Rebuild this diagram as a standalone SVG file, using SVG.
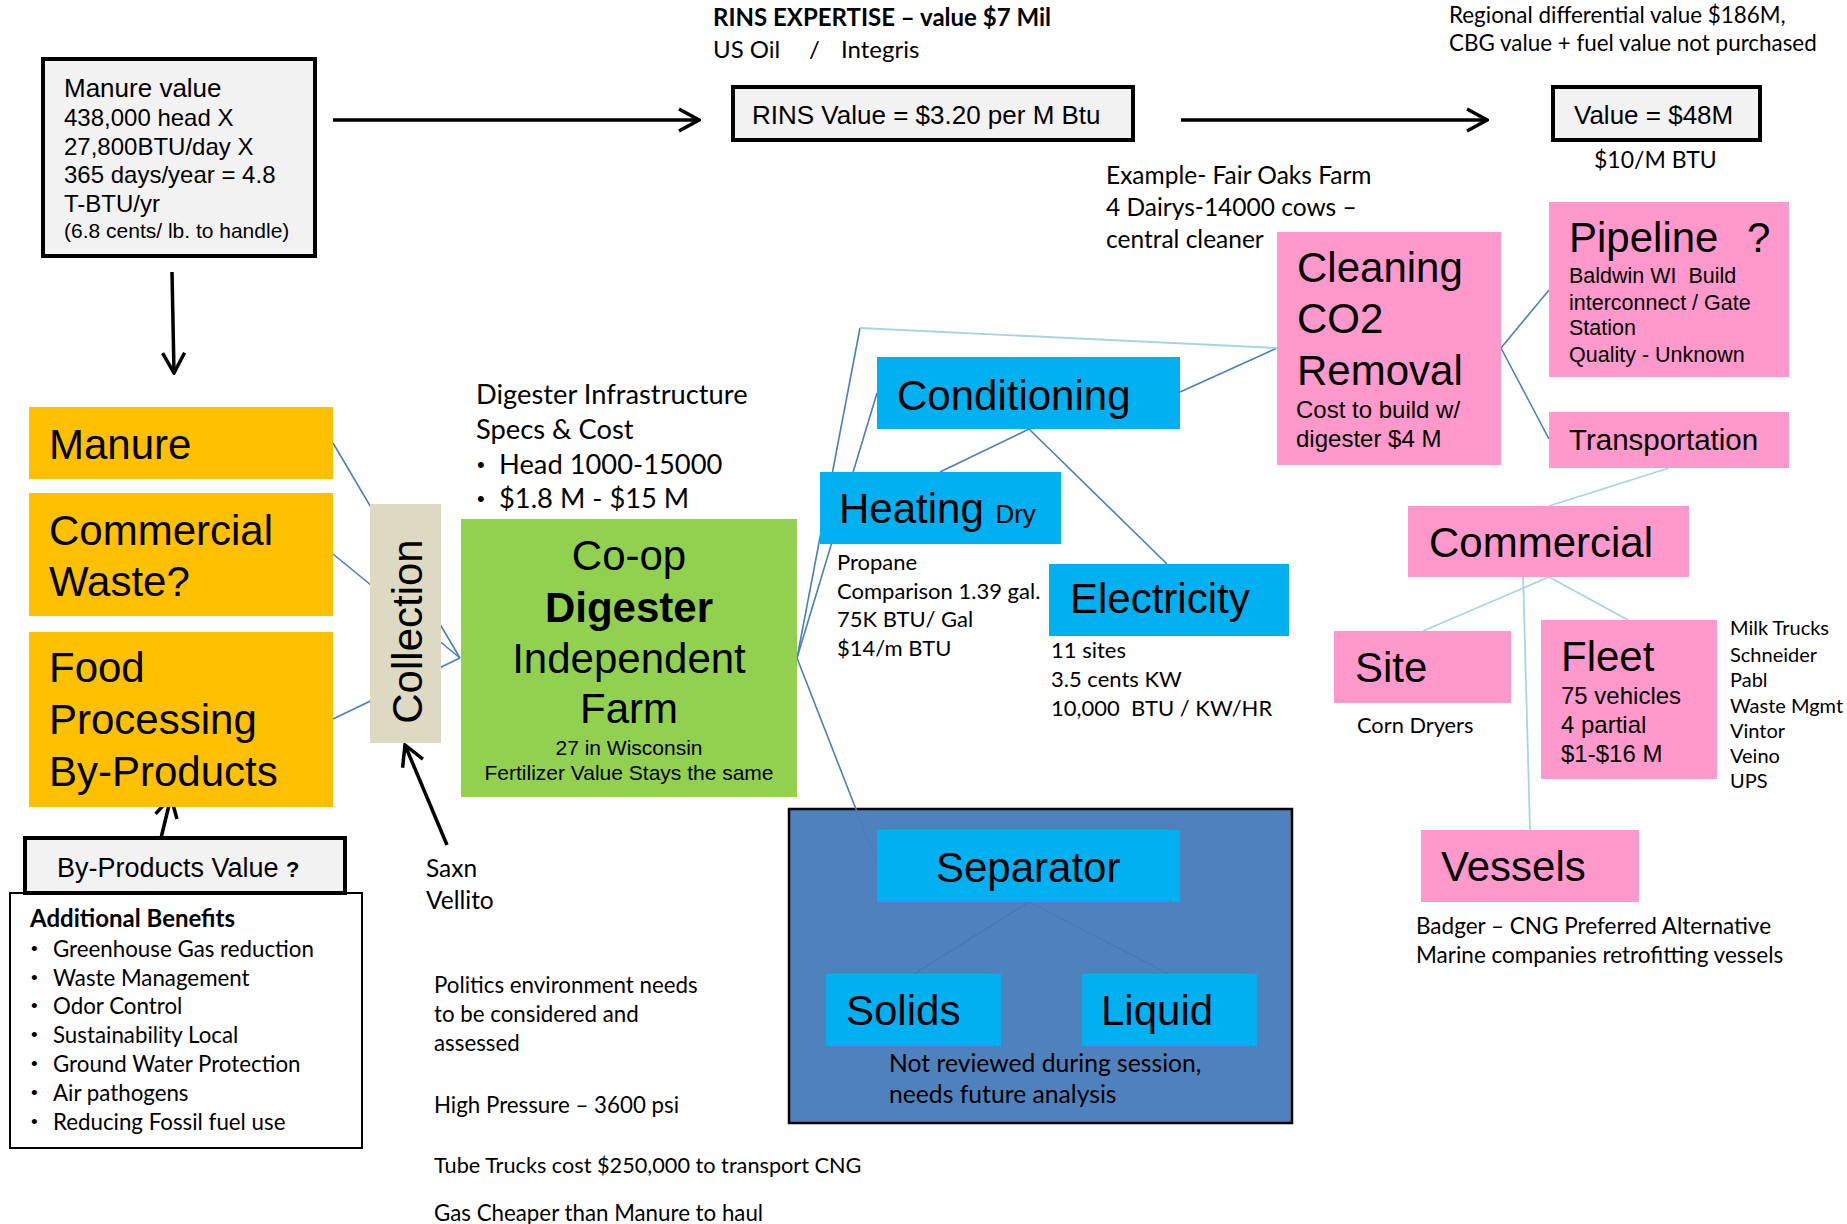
<svg xmlns="http://www.w3.org/2000/svg" width="1847" height="1224" viewBox="0 0 1847 1224">
<defs>
<marker id="arr" markerUnits="userSpaceOnUse" viewBox="-24 -13 26 26" markerWidth="26" markerHeight="26" refX="0" refY="0" orient="auto">
<path d="M-20,-11 L0,0 L-20,11" fill="none" stroke="#000" stroke-width="3.5"/>
</marker>
<style>
.a{font-family:"Liberation Sans",Arial,sans-serif;fill:#000}
.c{font-family:Lato,"Liberation Sans",sans-serif;fill:#000}
.big{font-size:42px}
.k{stroke:#000;stroke-width:3.5;fill:none}
.bl{stroke:#4A7EBB;stroke-width:1.6;fill:none}
.sb{stroke:#4677B6;stroke-width:1.3;fill:none}
.lt{stroke:#A5D5E0;stroke-width:1.8;fill:none}
.cy{fill:#00B0F0}
.pk{fill:#FF99CC}
.or{fill:#FFC000}
.gb{fill:#F2F2F2;stroke:#000;stroke-width:4}
.pre{white-space:pre}
</style>
</defs>
<rect width="1847" height="1224" fill="#fff"/>

<g id="separator-area">
<rect x="789" y="809" width="503" height="314" fill="#4F81BD" stroke="#000" stroke-width="2.5"/>
</g>

<g id="connectors">
<line class="bl" x1="333" y1="443" x2="460" y2="658"/>
<line class="bl" x1="333" y1="554" x2="460" y2="658"/>
<line class="bl" x1="333" y1="719" x2="460" y2="658"/>
<line class="bl" x1="797" y1="658" x2="860" y2="328"/>
<line class="bl" x1="797" y1="658" x2="877" y2="393"/>
<line class="bl" x1="797" y1="658" x2="877" y2="863"/>
<line class="bl" x1="1029" y1="429" x2="940" y2="472"/>
<line class="bl" x1="1029" y1="429" x2="1167" y2="564"/>
<line class="bl" x1="1180" y1="392" x2="1277" y2="348"/>
<line class="bl" x1="1501" y1="348" x2="1549" y2="290"/>
<line class="bl" x1="1501" y1="348" x2="1549" y2="439"/>
<line class="sb" x1="1029" y1="902" x2="914" y2="974"/>
<line class="sb" x1="1029" y1="902" x2="1169" y2="974"/>
<line class="lt" x1="860" y1="328" x2="1277" y2="348"/>
<line class="lt" x1="1669" y1="468" x2="1549" y2="506"/>
<line class="lt" x1="1549" y1="577" x2="1423" y2="631"/>
<line class="lt" x1="1549" y1="577" x2="1628" y2="620"/>
<line class="lt" x1="1523" y1="573" x2="1530" y2="830"/>
<line class="k" x1="333" y1="120" x2="699" y2="120" marker-end="url(#arr)"/>
<line class="k" x1="1181" y1="120" x2="1487" y2="120" marker-end="url(#arr)"/>
<line class="k" x1="172" y1="272" x2="174" y2="373" marker-end="url(#arr)"/>
<line class="k" x1="447" y1="845" x2="405" y2="745" marker-end="url(#arr)"/>
<line class="k" x1="161" y1="838" x2="171" y2="797" marker-end="url(#arr)"/>
</g>

<g id="manure-value">
<rect class="gb" x="43" y="59" width="272" height="197"/>
<text class="a" x="64" y="97" font-size="26">Manure value</text>
<text class="a" x="64" y="126" font-size="24">438,000 head X</text>
<text class="a" x="64" y="155" font-size="24">27,800BTU/day X</text>
<text class="a" x="64" y="183" font-size="24">365 days/year = 4.8</text>
<text class="a" x="64" y="212" font-size="24">T-BTU/yr</text>
<text class="a" x="64" y="238" font-size="21">(6.8 cents/ lb. to handle)</text>
</g>

<g id="rins-label">
<text class="c" x="713" y="26" font-size="24" font-weight="bold">RINS EXPERTISE – value $7 Mil</text>
<text class="c" x="713" y="58" font-size="24">US Oil</text>
<text class="c" x="809" y="58" font-size="24">/</text>
<text class="c" x="841" y="58" font-size="24">Integris</text>
</g>

<g id="rins-value">
<rect class="gb" x="733" y="87" width="400" height="53"/>
<text class="a" x="752" y="124" font-size="26">RINS Value = $3.20 per M Btu</text>
</g>

<g id="regional-label">
<text class="c" x="1449" y="23" font-size="22.4">Regional differential value $186M,</text>
<text class="c" x="1449" y="51" font-size="22.4">CBG value + fuel value not purchased</text>
</g>

<g id="value">
<rect class="gb" x="1553" y="87" width="207" height="53"/>
<text class="a" x="1574" y="124" font-size="26">Value = $48M</text>
<text class="c" x="1594" y="168" font-size="23">$10/M BTU</text>
</g>

<g id="example-label">
<text class="c" x="1106" y="184" font-size="24.5">Example- Fair Oaks Farm</text>
<text class="c" x="1106" y="216" font-size="24.5">4 Dairys-14000 cows –</text>
<text class="c" x="1106" y="248" font-size="24.5">central cleaner</text>
</g>

<g id="manure">
<rect class="or" x="29" y="407" width="304" height="72"/>
<text class="a big" x="49" y="459">Manure</text>
</g>
<g id="commercial-waste">
<rect class="or" x="29" y="493" width="304" height="123"/>
<text class="a big" x="49" y="545">Commercial</text>
<text class="a big" x="49" y="596">Waste?</text>
</g>
<g id="food-processing">
<rect class="or" x="29" y="632" width="304" height="175"/>
<text class="a big" x="49" y="682">Food</text>
<text class="a big" x="49" y="734">Processing</text>
<text class="a big" x="49" y="786">By-Products</text>
</g>

<g id="collection">
<rect x="370" y="504" width="71" height="239" fill="#DDD9C3"/>
<text class="a big" text-anchor="middle" transform="translate(422,631.5) rotate(-90)">Collection</text>
</g>

<g id="digester-infra">
<text class="c" x="476" y="404" font-size="27.3">Digester Infrastructure</text>
<text class="c" x="476" y="439" font-size="27.3">Specs &amp; Cost</text>
<text class="a" x="477" y="472" font-size="22">•</text>
<text class="c" x="499" y="474" font-size="27.3">Head 1000-15000</text>
<text class="a" x="477" y="506" font-size="22">•</text>
<text class="c" x="499" y="508" font-size="27.3">$1.8 M - $15 M</text>
</g>

<g id="digester">
<rect x="461" y="519" width="336" height="278" fill="#92D050"/>
<text class="a big" x="629" y="570" text-anchor="middle">Co-op</text>
<text class="a big" x="629" y="622" text-anchor="middle" font-weight="bold">Digester</text>
<text class="a big" x="629" y="673" text-anchor="middle">Independent</text>
<text class="a big" x="629" y="723" text-anchor="middle">Farm</text>
<text class="a" x="629" y="755" text-anchor="middle" font-size="21">27 in Wisconsin</text>
<text class="a" x="629" y="780" text-anchor="middle" font-size="21">Fertilizer Value Stays the same</text>
</g>

<g id="saxn-label">
<text class="c" x="426" y="877" font-size="24.5">Saxn</text>
<text class="c" x="426" y="909" font-size="24.5">Vellito</text>
</g>

<g id="additional-benefits">
<rect x="10" y="893" width="352" height="255" fill="#fff" stroke="#000" stroke-width="2"/>
<text class="c" x="30" y="927" font-size="24" font-weight="bold">Additional Benefits</text>
<g class="a" font-size="19">
<text x="31" y="955">•</text><text x="31" y="984">•</text><text x="31" y="1012">•</text><text x="31" y="1041">•</text><text x="31" y="1070">•</text><text x="31" y="1099">•</text><text x="31" y="1128">•</text>
</g>
<g class="c" font-size="22.3">
<text x="53" y="957">Greenhouse Gas reduction</text>
<text x="53" y="986">Waste Management</text>
<text x="53" y="1014">Odor Control</text>
<text x="53" y="1043">Sustainability Local</text>
<text x="53" y="1072">Ground Water Protection</text>
<text x="53" y="1101">Air pathogens</text>
<text x="53" y="1130">Reducing Fossil fuel use</text>
</g>
</g>

<g id="by-products-value">
<rect class="gb" x="25" y="838" width="320" height="55"/>
<text class="a" x="57" y="877" font-size="27">By-Products Value <tspan font-size="22" font-weight="bold">?</tspan></text>
</g>

<g id="notes" class="c" font-size="22.3">
<text x="434" y="993">Politics environment needs</text>
<text x="434" y="1022">to be considered and</text>
<text x="434" y="1051">assessed</text>
<text x="434" y="1113">High Pressure – 3600 psi</text>
<text x="434" y="1173" font-size="21.7">Tube Trucks cost $250,000 to transport CNG</text>
<text x="434" y="1221">Gas Cheaper than Manure to haul</text>
</g>

<g id="separator">
<rect class="cy" x="877" y="830" width="303" height="72"/>
<text class="a big" x="936" y="882">Separator</text>
</g>
<g id="solids">
<rect class="cy" x="826" y="974" width="175" height="72"/>
<text class="a big" x="846" y="1025">Solids</text>
</g>
<g id="liquid">
<rect class="cy" x="1082" y="974" width="175" height="72"/>
<text class="a big" x="1101" y="1025">Liquid</text>
</g>
<g id="separator-note">
<text class="c" x="889" y="1072" font-size="24.7">Not reviewed during session,</text>
<text class="c" x="889" y="1103" font-size="24.7">needs future analysis</text>
</g>

<g id="conditioning">
<rect class="cy" x="877" y="357" width="303" height="72"/>
<text class="a big" x="897" y="410">Conditioning</text>
</g>
<g id="heating">
<rect class="cy" x="820" y="472" width="241" height="72"/>
<text class="a big" x="839" y="523">Heating <tspan font-size="26">Dry</tspan></text>
<text class="c" x="837" y="570" font-size="22">Propane</text>
<text class="c" x="837" y="599" font-size="22">Comparison 1.39 gal.</text>
<text class="c" x="837" y="627" font-size="22">75K BTU/ Gal</text>
<text class="c" x="837" y="656" font-size="22">$14/m BTU</text>
</g>
<g id="electricity">
<rect class="cy" x="1049" y="564" width="240" height="72"/>
<text class="a big" x="1070" y="613">Electricity</text>
<text class="c" x="1051" y="658" font-size="22">11 sites</text>
<text class="c" x="1051" y="687" font-size="22">3.5 cents KW</text>
<text class="c pre" x="1051" y="716" font-size="22">10,000  BTU / KW/HR</text>
</g>

<g id="cleaning">
<rect class="pk" x="1277" y="232" width="224" height="233"/>
<text class="a big" x="1297" y="282">Cleaning</text>
<text class="a big" x="1297" y="333">CO2</text>
<text class="a big" x="1297" y="385">Removal</text>
<text class="a" x="1296" y="418" font-size="24">Cost to build w/</text>
<text class="a" x="1296" y="447" font-size="24">digester $4 M</text>
</g>
<g id="pipeline">
<rect class="pk" x="1549" y="202" width="240" height="175"/>
<text class="a big" x="1569" y="252">Pipeline</text>
<text class="a big" x="1747" y="252">?</text>
<text class="a pre" x="1569" y="283" font-size="21.5">Baldwin WI  Build</text>
<text class="a" x="1569" y="310" font-size="21.5">interconnect / Gate</text>
<text class="a" x="1569" y="335" font-size="21.5">Station</text>
<text class="a" x="1569" y="362" font-size="21.5">Quality - Unknown</text>
</g>
<g id="transportation">
<rect class="pk" x="1549" y="412" width="240" height="56"/>
<text class="a" x="1569" y="450" font-size="29.5">Transportation</text>
</g>
<g id="commercial">
<rect class="pk" x="1408" y="506" width="281" height="71"/>
<text class="a big" x="1429" y="557">Commercial</text>
</g>
<g id="site">
<rect class="pk" x="1334" y="631" width="177" height="72"/>
<text class="a big" x="1355" y="682">Site</text>
<text class="c" x="1357" y="733" font-size="21.8">Corn Dryers</text>
</g>
<g id="fleet">
<rect class="pk" x="1541" y="620" width="176" height="159"/>
<text class="a big" x="1561" y="671">Fleet</text>
<text class="a" x="1561" y="704" font-size="24">75 vehicles</text>
<text class="a" x="1561" y="733" font-size="24">4 partial</text>
<text class="a" x="1561" y="762" font-size="24">$1-$16 M</text>
</g>
<g id="fleet-list" class="c" font-size="20">
<text x="1730" y="635">Milk Trucks</text>
<text x="1730" y="662">Schneider</text>
<text x="1730" y="687">Pabl</text>
<text x="1730" y="713">Waste Mgmt</text>
<text x="1730" y="738">Vintor</text>
<text x="1730" y="763">Veino</text>
<text x="1730" y="788">UPS</text>
</g>
<g id="vessels">
<rect class="pk" x="1421" y="830" width="218" height="72"/>
<text class="a big" x="1441" y="881">Vessels</text>
<text class="c" x="1416" y="934" font-size="22.5">Badger – CNG Preferred Alternative</text>
<text class="c" x="1416" y="963" font-size="22.5">Marine companies retrofitting vessels</text>
</g>
</svg>
